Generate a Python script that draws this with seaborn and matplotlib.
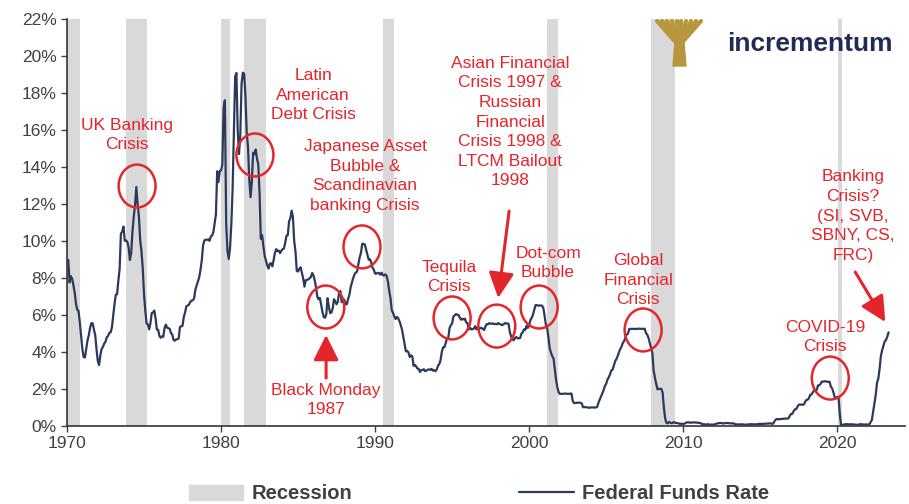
import numpy as np
import matplotlib
matplotlib.use("Agg")
import matplotlib.pyplot as plt
import seaborn as sns
from matplotlib.patches import Ellipse, Patch, Polygon
from matplotlib.lines import Line2D

# effective federal funds rate, monthly, Jan 1970 .. May 2023 (%)
rate = [
    8.98, 8.98, 7.76, 8.10, 7.95, 7.61, 7.21, 6.61, 6.29, 6.20, 5.60, 4.90,  # 1970
    4.14, 3.72, 3.71, 4.16, 4.63, 4.91, 5.31, 5.56, 5.55, 5.20, 4.91, 4.14,  # 1971
    3.50, 3.29, 3.83, 4.17, 4.27, 4.46, 4.55, 4.80, 4.87, 5.04, 5.06, 5.33,  # 1972
    5.94, 6.58, 7.09, 7.12, 7.84, 8.49, 10.40, 10.50, 10.78, 10.01, 10.03, 9.95,  # 1973
    9.65, 8.97, 9.35, 10.51, 11.31, 11.93, 12.92, 12.01, 11.34, 10.06, 9.45, 8.53,  # 1974
    7.13, 6.24, 5.54, 5.49, 5.22, 5.55, 6.10, 6.14, 6.24, 5.82, 5.22, 5.20,  # 1975
    4.87, 4.77, 4.84, 4.82, 5.29, 5.48, 5.31, 5.29, 5.25, 5.02, 4.95, 4.65,  # 1976
    4.61, 4.68, 4.69, 4.73, 5.35, 5.39, 5.42, 5.90, 6.14, 6.47, 6.51, 6.56,  # 1977
    6.70, 6.78, 6.79, 6.89, 7.36, 7.60, 7.81, 8.04, 8.45, 8.96, 9.76, 10.03,  # 1978
    10.07, 10.06, 10.09, 10.01, 10.24, 10.29, 10.47, 10.94, 11.43, 13.77, 13.18, 13.78,  # 1979
    13.82, 14.13, 17.19, 17.61, 10.98, 9.47, 9.03, 9.61, 10.87, 12.81, 15.85, 18.90,  # 1980
    19.08, 15.93, 14.70, 15.72, 18.52, 19.10, 19.04, 17.82, 15.87, 15.08, 13.31, 12.37,  # 1981
    13.22, 14.78, 14.68, 14.94, 14.45, 14.15, 12.59, 10.12, 10.31, 9.71, 9.20, 8.95,  # 1982
    8.68, 8.51, 8.77, 8.80, 8.63, 8.98, 9.37, 9.56, 9.45, 9.48, 9.34, 9.47,  # 1983
    9.56, 9.59, 9.91, 10.29, 10.32, 11.06, 11.23, 11.64, 11.30, 9.99, 9.43, 8.38,  # 1984
    8.35, 8.50, 8.58, 8.27, 7.97, 7.53, 7.88, 7.90, 7.92, 7.99, 8.05, 8.27,  # 1985
    8.14, 7.86, 7.48, 6.99, 6.85, 6.92, 6.56, 6.17, 5.89, 5.85, 6.04, 6.91,  # 1986
    6.43, 6.10, 6.13, 6.37, 6.85, 6.73, 6.58, 6.73, 7.22, 7.29, 6.69, 6.77,  # 1987
    6.83, 6.58, 6.58, 6.87, 7.09, 7.51, 7.75, 8.01, 8.19, 8.30, 8.35, 8.76,  # 1988
    9.12, 9.36, 9.85, 9.84, 9.81, 9.53, 9.24, 8.99, 9.02, 8.84, 8.55, 8.45,  # 1989
    8.23, 8.24, 8.28, 8.26, 8.18, 8.29, 8.15, 8.13, 8.20, 8.11, 7.81, 7.31,  # 1990
    6.91, 6.25, 6.12, 5.91, 5.78, 5.90, 5.82, 5.66, 5.45, 5.21, 4.81, 4.43,  # 1991
    4.03, 4.06, 3.98, 3.73, 3.82, 3.76, 3.25, 3.30, 3.22, 3.10, 3.09, 2.92,  # 1992
    3.02, 3.03, 3.07, 2.96, 3.00, 3.04, 3.06, 3.03, 3.09, 2.99, 3.02, 2.96,  # 1993
    3.05, 3.25, 3.34, 3.56, 4.01, 4.25, 4.26, 4.47, 4.73, 4.76, 5.29, 5.45,  # 1994
    5.53, 5.92, 5.98, 6.05, 6.01, 6.00, 5.85, 5.74, 5.80, 5.76, 5.80, 5.60,  # 1995
    5.56, 5.22, 5.31, 5.22, 5.24, 5.27, 5.40, 5.22, 5.30, 5.24, 5.31, 5.29,  # 1996
    5.25, 5.19, 5.39, 5.51, 5.50, 5.56, 5.52, 5.54, 5.54, 5.50, 5.52, 5.50,  # 1997
    5.56, 5.51, 5.49, 5.45, 5.49, 5.56, 5.54, 5.55, 5.51, 5.07, 4.83, 4.68,  # 1998
    4.63, 4.76, 4.81, 4.74, 4.74, 4.76, 4.99, 5.07, 5.22, 5.20, 5.42, 5.30,  # 1999
    5.45, 5.73, 5.85, 6.02, 6.27, 6.53, 6.54, 6.50, 6.52, 6.51, 6.51, 6.40,  # 2000
    5.98, 5.49, 5.31, 4.80, 4.21, 3.97, 3.77, 3.65, 3.07, 2.49, 2.09, 1.82,  # 2001
    1.73, 1.74, 1.73, 1.75, 1.75, 1.75, 1.73, 1.74, 1.75, 1.75, 1.34, 1.24,  # 2002
    1.24, 1.26, 1.25, 1.26, 1.26, 1.22, 1.01, 1.03, 1.01, 1.01, 1.00, 0.98,  # 2003
    1.00, 1.01, 1.00, 1.00, 1.00, 1.03, 1.26, 1.43, 1.61, 1.76, 1.93, 2.16,  # 2004
    2.28, 2.50, 2.63, 2.79, 3.00, 3.04, 3.26, 3.50, 3.62, 3.78, 4.00, 4.16,  # 2005
    4.29, 4.49, 4.59, 4.79, 4.94, 4.99, 5.24, 5.25, 5.25, 5.25, 5.25, 5.24,  # 2006
    5.25, 5.26, 5.26, 5.25, 5.25, 5.25, 5.26, 5.02, 4.94, 4.76, 4.49, 4.24,  # 2007
    3.94, 2.98, 2.61, 2.28, 1.98, 2.00, 2.01, 2.00, 1.81, 0.97, 0.39, 0.16,  # 2008
    0.15, 0.22, 0.18, 0.15, 0.18, 0.21, 0.16, 0.16, 0.15, 0.12, 0.12, 0.12,  # 2009
    0.11, 0.13, 0.16, 0.20, 0.20, 0.18, 0.18, 0.19, 0.19, 0.19, 0.19, 0.18,  # 2010
    0.17, 0.16, 0.14, 0.10, 0.09, 0.09, 0.07, 0.10, 0.08, 0.07, 0.08, 0.07,  # 2011
    0.08, 0.10, 0.13, 0.14, 0.16, 0.16, 0.16, 0.13, 0.14, 0.16, 0.16, 0.16,  # 2012
    0.14, 0.15, 0.14, 0.15, 0.11, 0.09, 0.09, 0.08, 0.08, 0.09, 0.08, 0.09,  # 2013
    0.07, 0.07, 0.08, 0.09, 0.09, 0.10, 0.09, 0.09, 0.09, 0.09, 0.09, 0.12,  # 2014
    0.11, 0.11, 0.11, 0.12, 0.12, 0.13, 0.13, 0.14, 0.14, 0.12, 0.12, 0.24,  # 2015
    0.34, 0.38, 0.36, 0.37, 0.37, 0.38, 0.39, 0.40, 0.40, 0.40, 0.41, 0.54,  # 2016
    0.65, 0.66, 0.79, 0.90, 0.91, 1.04, 1.15, 1.16, 1.15, 1.15, 1.16, 1.30,  # 2017
    1.41, 1.42, 1.51, 1.69, 1.70, 1.82, 1.91, 1.91, 1.95, 2.19, 2.20, 2.27,  # 2018
    2.40, 2.40, 2.41, 2.42, 2.39, 2.38, 2.40, 2.13, 2.04, 1.83, 1.55, 1.55,  # 2019
    1.55, 1.58, 0.65, 0.05, 0.05, 0.08, 0.09, 0.10, 0.09, 0.09, 0.09, 0.09,  # 2020
    0.09, 0.08, 0.07, 0.07, 0.06, 0.08, 0.10, 0.09, 0.08, 0.08, 0.08, 0.08,  # 2021
    0.08, 0.08, 0.20, 0.33, 0.77, 1.21, 1.68, 2.33, 2.56, 3.08, 3.78, 4.10,  # 2022
    4.33, 4.57, 4.65, 4.83, 5.06,  # 2023
]
years = 1970 + np.arange(len(rate)) / 12

# NBER recessions (start, end) in decimal years
rec_start = [1969.9, 1973.85, 1980.0, 1981.5, 1990.5, 2001.15, 2007.9, 2020.05]
rec_end = [1970.85, 1975.2, 1980.55, 1982.9, 1991.2, 2001.85, 2009.5, 2020.3]

# annotations: text, text position, circle centre
labels = ["UK Banking\nCrisis", "Latin\nAmerican\nDebt Crisis",
          "Japanese Asset\nBubble &\nScandinavian\nbanking Crisis",
          "Asian Financial\nCrisis 1997 &\nRussian\nFinancial\nCrisis 1998 &\nLTCM Bailout\n1998",
          "Tequila\nCrisis", "Dot-com\nBubble", "Black Monday\n1987",
          "Global\nFinancial\nCrisis", "COVID-19\nCrisis",
          "Banking\nCrisis?\n(SI, SVB,\nSBNY, CS,\nFRC)"]
label_x = [1973.9, 1985.97, 1989.35, 1998.77, 1994.8, 2001.23, 1986.82, 2007.08, 2019.22, 2021.04]
label_y = [15.73, 17.89, 13.51, 16.43, 8.05, 8.81, 1.41, 7.89, 4.81, 11.35]
circle_x = [1974.55, 1982.2, 1989.15, 1995.0, 1997.9, 2000.65, 1986.8, 2007.4, 2019.55]
circle_y = [12.97, 14.65, 9.68, 5.84, 5.4, 6.43, 6.43, 5.19, 2.59]
arrow_from = [(1998.70, 11.62), (1986.82, 2.59), (2021.17, 8.32)]
arrow_to = [(1997.99, 6.92), (1986.82, 4.92), (2023.12, 5.62)]

red = "#e3262c"
navy = "#2b3a5c"
grey = "#d9d9d9"
text_col = "#404040"

sns.set_style("white")
plt.rcParams["font.family"] = ["Liberation Sans", "DejaVu Sans"]

fig = plt.figure(figsize=(9.09, 5.04), dpi=100)
ax = fig.add_axes([0.0737, 0.1548, 0.9219, 0.8075])

for s, e in zip(rec_start, rec_end):
    ax.axvspan(s, e, color=grey, lw=0, zorder=0)

sns.lineplot(x=years, y=rate, ax=ax, color=navy, lw=1.6, zorder=3)

for t, tx, ty in zip(labels, label_x, label_y):
    ax.text(tx, ty, t, color=red, fontsize=12.5, ha="center", va="center",
            linespacing=1.38, zorder=5)

for cx, cy in zip(circle_x, circle_y):
    ax.add_patch(Ellipse((cx, cy), 2.4, 2.32, fill=False, ec=red, lw=1.8, zorder=6))

for a, b in zip(arrow_from, arrow_to):
    ax.annotate("", xy=b, xytext=a,
                arrowprops=dict(arrowstyle="-|>,head_length=0.7,head_width=0.35",
                                color=red, lw=2.2, mutation_scale=22,
                                shrinkA=0, shrinkB=0), zorder=6)

ax.set_xlim(1970, 2024.4)
ax.set_ylim(0, 22)
ax.set_yticks(np.arange(0, 23, 2))
ax.set_yticklabels([f"{v}%" for v in range(0, 23, 2)])
ax.set_xticks(range(1970, 2021, 10))
ax.tick_params(axis="both", labelsize=12.5, colors=text_col, length=4,
               direction="out", width=1, left=True, bottom=True)
ax.set_xlabel("")
ax.set_ylabel("")
sns.despine(ax=ax)
for sp in ["left", "bottom"]:
    ax.spines[sp].set_color("#333333")
    ax.spines[sp].set_linewidth(1.2)

handles = [Patch(color=grey, label="Recession"),
           Line2D([], [], color=navy, lw=1.6, label="Federal Funds Rate")]
fig.legend(handles=handles, loc="center", bbox_to_anchor=(0.527, 0.02), ncol=2,
           frameon=False, handlelength=2.7, handleheight=0.8, handletextpad=0.4,
           columnspacing=8.3, prop=dict(weight="bold", size=14.5),
           labelcolor=text_col)

# logo
gold = "#b8963e"
W, H = 909, 504
def fx(px):
    return px / W
def fy(py):
    return 1 - py / H
fig.patches.append(Polygon([(fx(673), fy(66)), (fx(686), fy(66)), (fx(684), fy(42)),
                            (fx(675), fy(42))], closed=True, color=gold,
                           transform=fig.transFigure))
for dx in [-22, -17, -12, -7, -2, 2, 7, 12, 17, 22]:
    fig.lines.append(Line2D([fx(679), fx(679 + dx)], [fy(46), fy(21)], color=gold,
                            lw=3.0, transform=fig.transFigure))
fig.text(fx(727), fy(44), "incrementum", color="#1f2c58", fontsize=19,
         fontweight="bold", ha="left", va="center")

fig.savefig("out.png", dpi=100)
